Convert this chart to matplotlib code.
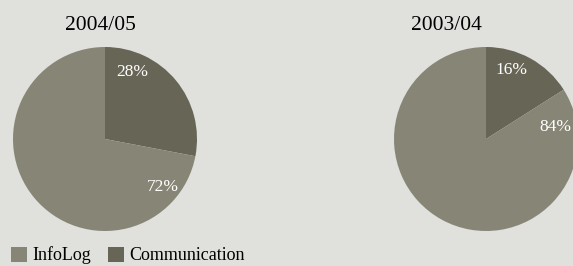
import matplotlib.pyplot as plt
from matplotlib.patches import Patch

# Data
categories = ["InfoLog", "Communication"]
years = ["2004/05", "2003/04"]
share_0405 = [72, 28]
share_0304 = [84, 16]

bg = "#e0e0dc"
colors = {"InfoLog": "#878676", "Communication": "#666556"}

plt.rcParams["font.family"] = ["Liberation Serif", "DejaVu Serif"]

fig = plt.figure(figsize=(5.73, 2.66), dpi=100, facecolor=bg)

# Axes placed so each pie has radius ~92 px
pie_axes = [
    fig.add_axes([13 / 573, 35 / 266, 184 / 573, 184 / 266]),
    fig.add_axes([394 / 573, 35 / 266, 184 / 573, 184 / 266]),
]

# label positions (in pie units) for [InfoLog, Communication]
label_pos = [
    [(0.63, -0.52), (0.30, 0.73)],
    [(0.75, 0.13), (0.28, 0.75)],
]

for ax, year, values, lp in zip(pie_axes, years, [share_0405, share_0304], label_pos):
    # draw Communication first, clockwise from top
    vals = [values[1], values[0]]
    cols = [colors["Communication"], colors["InfoLog"]]
    ax.pie(vals, colors=cols, startangle=90, counterclock=False, radius=1,
           wedgeprops=dict(linewidth=0))
    ax.set_xlim(-1, 1)
    ax.set_ylim(-1, 1)
    ax.set_aspect("equal")
    ax.axis("off")
    ax.text(lp[0][0], lp[0][1], f"{values[0]}%", color="white", fontsize=12.5,
            ha="center", va="center")
    ax.text(lp[1][0], lp[1][1], f"{values[1]}%", color="white", fontsize=12.5,
            ha="center", va="center")

fig.text(100 / 573, 1 - 26 / 266, years[0], ha="center", va="center", fontsize=15.5)
fig.text(446 / 573, 1 - 26 / 266, years[1], ha="center", va="center", fontsize=15.5)

handles = [Patch(facecolor=colors[c], edgecolor="none", label=c) for c in categories]
fig.legend(handles=handles, loc="lower left", bbox_to_anchor=(0.0, -0.035),
           ncol=2, frameon=False, fontsize=13, handlelength=0.9,
           handleheight=0.9, handletextpad=0.3, columnspacing=0.9,
           borderaxespad=0.2)

fig.savefig("out.png", dpi=100, facecolor=bg)
